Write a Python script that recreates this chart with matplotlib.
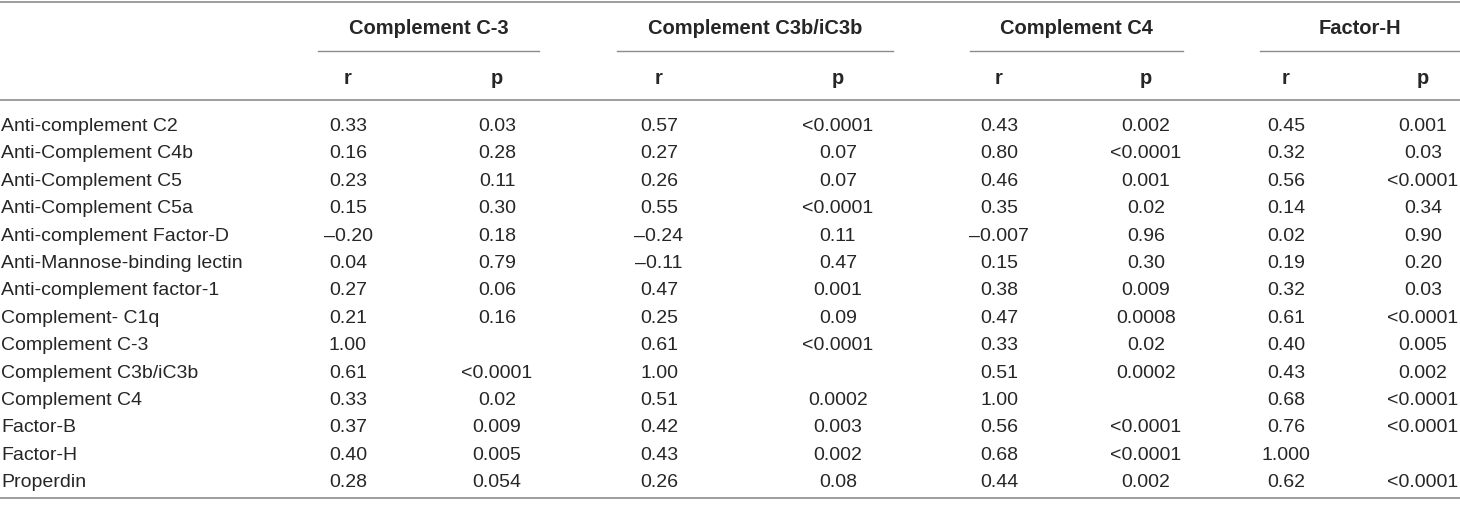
import matplotlib
matplotlib.use('Agg')
import matplotlib.pyplot as plt

plt.rcParams['font.family'] = ['Liberation Sans', 'DejaVu Sans']

# rows of the table
row_labels = [
    'Anti-complement C2', 'Anti-Complement C4b', 'Anti-Complement C5',
    'Anti-Complement C5a', 'Anti-complement Factor-D', 'Anti-Mannose-binding lectin',
    'Anti-complement factor-1', 'Complement- C1q', 'Complement C-3',
    'Complement C3b/iC3b', 'Complement C4', 'Factor-B', 'Factor-H', 'Properdin',
]

groups = ['Complement C-3', 'Complement C3b/iC3b', 'Complement C4', 'Factor-H']

# r / p per group (kept as text, the table prints them as written)
c3_r = ['0.33', '0.16', '0.23', '0.15', '–0.20', '0.04', '0.27', '0.21', '1.00', '0.61', '0.33', '0.37', '0.40', '0.28']
c3_p = ['0.03', '0.28', '0.11', '0.30', '0.18', '0.79', '0.06', '0.16', '', '<0.0001', '0.02', '0.009', '0.005', '0.054']
c3b_r = ['0.57', '0.27', '0.26', '0.55', '–0.24', '–0.11', '0.47', '0.25', '0.61', '1.00', '0.51', '0.42', '0.43', '0.26']
c3b_p = ['<0.0001', '0.07', '0.07', '<0.0001', '0.11', '0.47', '0.001', '0.09', '<0.0001', '', '0.0002', '0.003', '0.002', '0.08']
c4_r = ['0.43', '0.80', '0.46', '0.35', '–0.007', '0.15', '0.38', '0.47', '0.33', '0.51', '1.00', '0.56', '0.68', '0.44']
c4_p = ['0.002', '<0.0001', '0.001', '0.02', '0.96', '0.30', '0.009', '0.0008', '0.02', '0.0002', '', '<0.0001', '<0.0001', '0.002']
fh_r = ['0.45', '0.32', '0.56', '0.14', '0.02', '0.19', '0.32', '0.61', '0.40', '0.43', '0.68', '0.76', '1.000', '0.62']
fh_p = ['0.001', '0.03', '<0.0001', '0.34', '0.90', '0.20', '0.03', '<0.0001', '0.005', '0.002', '<0.0001', '<0.0001', '', '<0.0001']

columns = [c3_r, c3_p, c3b_r, c3b_p, c4_r, c4_p, fh_r, fh_p]

# layout (pixels)
W, H = 1460, 507
col_x = [348, 497, 659, 838, 999, 1146, 1286, 1423]
group_span = [(318, 539), (617, 893), (970, 1183), (1260, 1460)]
row_y0, row_dy = 126.5, 27.4
fs = 14
txt = '#262626'
rule = '#8c8c8c'

fig = plt.figure(figsize=(W / 100, H / 100), dpi=100)
ax = fig.add_axes([0, 0, 1, 1])
ax.set_xlim(0, W)
ax.set_ylim(H, 0)
ax.axis('off')

# horizontal rules
ax.plot([0, W], [1.5, 1.5], color=rule, lw=1.2)
ax.plot([0, W], [100, 100], color=rule, lw=1.2)
ax.plot([0, W], [498, 498], color=rule, lw=1.2)

# group headers
for name, (x0, x1) in zip(groups, group_span):
    ax.text((x0 + x1) / 2, 28, name, ha='center', va='center',
            fontsize=14.5, fontweight='bold', color=txt)
    ax.plot([x0, x1], [51, 51], color=rule, lw=1.0)

for i, x in enumerate(col_x):
    ax.text(x, 78, 'r' if i % 2 == 0 else 'p', ha='center', va='center',
            fontsize=14.5, fontweight='bold', color=txt)

# body
for j, label in enumerate(row_labels):
    y = row_y0 + j * row_dy
    ax.text(1, y, label, ha='left', va='center', fontsize=fs, color=txt)
    for x, col in zip(col_x, columns):
        ax.text(x, y, col[j], ha='center', va='center', fontsize=fs, color=txt)

fig.savefig('out.png', dpi=100)
